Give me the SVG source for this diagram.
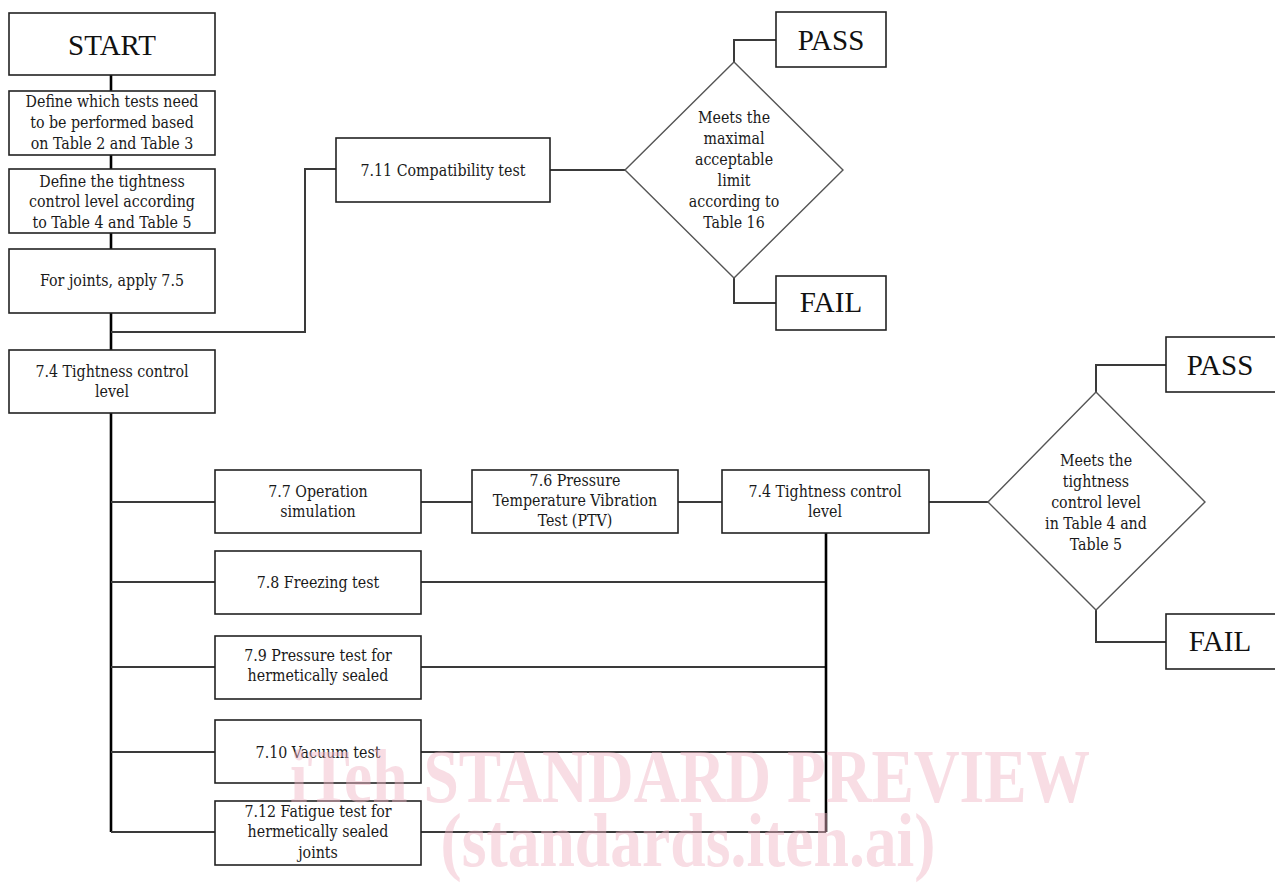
<svg xmlns="http://www.w3.org/2000/svg" width="1275" height="884" viewBox="0 0 1275 884">
<style>
.box{fill:#fff;stroke:#222;stroke-width:1.6}
.dia{fill:#fff;stroke:#555;stroke-width:1.4}
.t{font-family:'DejaVu Serif Condensed','DejaVu Serif',serif;font-stretch:condensed;font-size:15.8px;fill:#1a1a1a;text-anchor:middle}
.big{font-family:'Liberation Serif',serif;font-size:29px;fill:#111;text-anchor:middle}
.c{fill:none;stroke:#3a3a3a;stroke-width:2}
.trunk{fill:none;stroke:#000;stroke-width:2.6}
.wm{font-family:'Liberation Serif',serif;font-weight:bold;fill:#f0b4c4;opacity:0.45;text-anchor:middle}
</style>
<rect width="1275" height="884" fill="#fff"/>
<g id="connectors">
<path class="trunk" d="M111 75V91M111 155V169M111 233V249M111 313V350M111 413V832"/>
<path class="c" d="M111 332H305V169H336"/>
<path class="c" d="M550 170H625"/>
<path class="c" d="M734 62V40H776M734 278V303H776"/>
<path class="c" d="M111 502H215M111 582H215M111 667H215M111 752H215M111 832H215"/>
<path class="c" d="M421 502H472M678 502H722M929 502H988"/>
<path class="c" d="M421 582H826M421 667H826M421 752H826M421 832H826"/>
<path class="trunk" d="M826 533V832"/>
<path class="c" d="M1096 392V365H1166M1096 610V642H1166"/>
</g>
<g id="start"><rect class="box" x="9" y="13" width="206" height="62"/><text class="big" x="112" y="55">START</text></g>
<g id="define-tests"><rect class="box" x="9" y="91" width="206" height="64"/>
<text class="t" x="112" y="107">Define which tests need</text><text class="t" x="112" y="128">to be performed based</text><text class="t" x="112" y="149">on Table 2 and Table 3</text></g>
<g id="define-level"><rect class="box" x="9" y="169" width="206" height="64"/>
<text class="t" x="112" y="187">Define the tightness</text><text class="t" x="112" y="207">control level according</text><text class="t" x="112" y="228">to Table 4 and Table 5</text></g>
<g id="joints"><rect class="box" x="9" y="249" width="206" height="64"/><text class="t" x="112" y="286">For joints, apply 7.5</text></g>
<g id="tightness1"><rect class="box" x="9" y="350" width="206" height="63"/><text class="t" x="112" y="377">7.4 Tightness control</text><text class="t" x="112" y="397">level</text></g>
<g id="compat"><rect class="box" x="336" y="138" width="214" height="64"/><text class="t" x="443" y="176">7.11 Compatibility test</text></g>
<g id="decision1"><polygon class="dia" points="734,62 843,170 734,278 625,170"/>
<text class="t" x="734" y="123">Meets the</text><text class="t" x="734" y="144">maximal</text><text class="t" x="734" y="165">acceptable</text><text class="t" x="734" y="186">limit</text><text class="t" x="734" y="207">according to</text><text class="t" x="734" y="228">Table 16</text></g>
<g id="pass1"><rect class="box" x="776" y="12" width="110" height="55"/><text class="big" x="831" y="50">PASS</text></g>
<g id="fail1"><rect class="box" x="776" y="276" width="110" height="54"/><text class="big" x="831" y="312">FAIL</text></g>
<g id="op-sim"><rect class="box" x="215" y="470" width="206" height="63"/><text class="t" x="318" y="497">7.7 Operation</text><text class="t" x="318" y="517">simulation</text></g>
<g id="ptv"><rect class="box" x="472" y="470" width="206" height="63"/><text class="t" x="575" y="486">7.6 Pressure</text><text class="t" x="575" y="506">Temperature Vibration</text><text class="t" x="575" y="526">Test (PTV)</text></g>
<g id="tightness2"><rect class="box" x="722" y="470" width="207" height="63"/><text class="t" x="825" y="497">7.4 Tightness control</text><text class="t" x="825" y="517">level</text></g>
<g id="freezing"><rect class="box" x="215" y="551" width="206" height="63"/><text class="t" x="318" y="588">7.8 Freezing test</text></g>
<g id="pressure"><rect class="box" x="215" y="636" width="206" height="63"/><text class="t" x="318" y="661">7.9 Pressure test for</text><text class="t" x="318" y="681">hermetically sealed</text></g>
<g id="vacuum"><rect class="box" x="215" y="720" width="206" height="63"/><text class="t" x="318" y="758">7.10 Vacuum test</text></g>
<g id="fatigue"><rect class="box" x="215" y="801" width="206" height="64"/><text class="t" x="318" y="817">7.12 Fatigue test for</text><text class="t" x="318" y="837">hermetically sealed</text><text class="t" x="318" y="858">joints</text></g>
<g id="decision2"><polygon class="dia" points="1096,392 1205,502 1096,610 988,502"/>
<text class="t" x="1096" y="466">Meets the</text><text class="t" x="1096" y="487">tightness</text><text class="t" x="1096" y="508">control level</text><text class="t" x="1096" y="529">in Table 4 and</text><text class="t" x="1096" y="550">Table 5</text></g>
<g id="pass2"><rect class="box" x="1166" y="337" width="120" height="55"/><text class="big" x="1220" y="375">PASS</text></g>
<g id="fail2"><rect class="box" x="1166" y="614" width="120" height="55"/><text class="big" x="1220" y="651">FAIL</text></g>
<g id="watermark">
<text class="wm" x="690" y="802" font-size="76" textLength="800" lengthAdjust="spacingAndGlyphs">iTeh STANDARD PREVIEW</text>
<text class="wm" x="688" y="866" font-size="76" textLength="495" lengthAdjust="spacingAndGlyphs">(standards.iteh.ai)</text>
</g>
</svg>
